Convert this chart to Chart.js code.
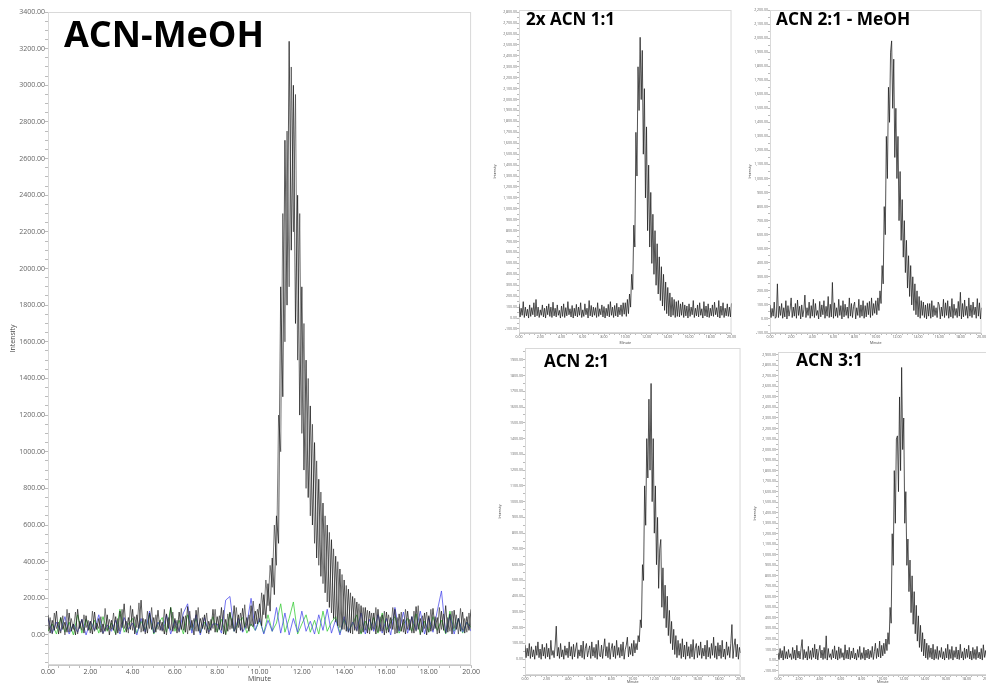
<!DOCTYPE html>
<html><head><meta charset="utf-8">
<script src="https://cdn.jsdelivr.net/npm/chart.js@4.4.1/dist/chart.umd.min.js"></script>
<style>
html,body{margin:0;padding:0;background:#fff;width:986px;height:684px;overflow:hidden;position:relative;font-family:"Open Sans",sans-serif}
.panel{position:absolute}
.title{position:absolute;font-family:"Open Sans",sans-serif;font-weight:700;color:#000;white-space:nowrap;line-height:1}
</style></head><body>
<div class="panel" style="left:0;top:0;width:480px;height:684px"><canvas id="c0"></canvas></div>
<div class="panel" style="left:490px;top:0;width:246px;height:345px"><canvas id="c1"></canvas></div>
<div class="panel" style="left:745px;top:0;width:241px;height:345px"><canvas id="c2"></canvas></div>
<div class="panel" style="left:495px;top:340px;width:250px;height:344px"><canvas id="c3"></canvas></div>
<div class="panel" style="left:750px;top:340px;width:242px;height:344px"><canvas id="c4"></canvas></div>
<div class="title" style="left:64px;top:16px;font-size:36px">ACN-MeOH</div>
<div class="title" style="left:526px;top:10px;font-size:17px">2x ACN 1:1</div>
<div class="title" style="left:776px;top:10px;font-size:17.3px">ACN 2:1 - MeOH</div>
<div class="title" style="left:544px;top:352px;font-size:17px">ACN 2:1</div>
<div class="title" style="left:796px;top:351px;font-size:17.5px">ACN 3:1</div>
<script>
// Time grids (minutes)
const minutes = Array.from({length: 201}, (_, i) => i / 10);
const minutesCoarse = Array.from({length: 101}, (_, i) => i / 5);

// ACN-MeOH panel: sample traces (black) and blanks (blue, green)
const acnMeohA = [
110,10,80,25,130,5,95,30,70,15,
120,20,60,0,140,35,85,10,105,25,
75,5,125,30,90,15,60,20,110,0,
80,25,100,10,130,40,170,15,95,30,
140,5,110,35,190,20,85,10,120,30,
95,15,135,25,70,5,115,35,150,20,
90,10,125,30,100,15,155,25,80,0,
135,20,90,35,110,10,75,25,140,15,
100,30,150,5,85,20,125,35,160,10,
110,25,145,40,95,20,160,45,130,60,
170,50,220,90,280,130,420,220,650,500,
1900,1300,2700,1800,3240,2100,3000,1700,2400,1200,
1900,900,1500,750,1250,600,1050,420,850,320,
720,230,600,150,520,90,430,50,360,30,
300,20,250,10,210,25,180,5,160,15,
150,10,130,25,120,5,140,20,110,0,
125,15,95,30,140,10,115,20,85,5,
130,25,100,10,155,30,90,15,120,0,
105,20,145,35,95,10,130,25,160,15,
115,5,135,30,90,20,125,10,100,25,
140];
const acnMeohB = [
20,95,5,120,35,70,10,105,0,140,
15,90,30,125,5,75,25,110,40,80,
10,130,20,65,35,100,5,145,25,85,
30,120,0,90,20,140,35,75,10,160,
25,100,40,175,15,90,5,130,35,150,
10,110,30,80,20,140,0,95,25,125,
35,80,15,145,25,105,5,130,40,90,
20,150,10,95,30,120,5,85,35,140,
15,105,25,135,0,115,30,90,20,150,
40,120,20,165,35,110,50,185,60,140,
70,230,110,300,160,380,260,600,380,1200,
1000,2300,1600,2750,1900,3100,2200,2950,1500,2300,
1100,1700,800,1400,650,1150,500,950,380,780,
280,650,180,560,120,470,70,400,40,330,
30,270,15,230,5,200,20,170,10,150,
25,135,5,120,30,150,15,100,20,130,
10,110,35,150,5,95,25,125,15,140,
30,85,10,130,20,160,0,105,35,125,
15,140,25,100,5,150,30,115,10,95,
20,130,35,110,5,145,25,90,15,120,
30];
const blankBlue = [
90,10,70,20,100,5,60,15,85,0,
75,25,110,10,55,20,80,5,95,30,
65,0,90,15,130,10,70,25,110,5,
80,20,120,170,10,110,0,95,15,60,
60,10,190,210,20,90,15,60,200,25,
90,5,80,20,150,10,120,0,90,15,
130,20,75,5,110,25,140,10,85,0,
100,15,70,25,120,5,85,20,110,10,
90,0,150,20,125,10,100,25,130,5,
95,15,130,240,10,110,5,90,15,70,
20];
const blankGreen = [
20,60,5,95,15,70,0,110,10,85,
25,80,10,100,20,65,5,140,15,60,
90,10,75,25,110,5,60,95,15,150,
20,80,5,110,25,90,10,70,30,100,
15,85,5,120,20,70,95,10,60,25,
80,10,110,20,65,170,15,90,180,5,
60,110,15,80,5,130,20,70,100,10,
85,20,60,110,5,75,25,95,10,120,
25,70,100,10,60,90,20,115,5,75,
15,100,25,80,5,130,20,90,10,70,
40];

// 2x ACN 1:1
const acn2x11 = [
130,10,90,25,150,5,100,20,80,0,
120,15,95,30,140,10,170,20,100,5,
75,25,120,10,90,0,110,30,130,15,
100,5,145,20,90,10,120,25,70,0,
110,15,130,5,95,20,150,30,85,10,
115,0,90,20,125,10,100,25,140,5,
75,15,130,30,90,0,160,20,115,10,
100,25,95,5,140,15,85,30,120,10,
105,0,90,20,125,10,150,25,100,5,
115,20,135,10,100,30,120,15,140,35,
140,15,170,40,220,100,400,260,850,650,
1700,1300,2300,1900,2570,2000,2450,1500,2100,1100,
1750,800,1400,650,1150,500,950,400,800,300,
680,220,560,160,470,110,400,70,330,40,
280,20,230,10,190,25,170,5,150,15,
160,10,130,25,145,5,120,20,110,0,
130,15,100,30,160,5,90,20,120,10,
140,25,85,0,150,20,110,10,130,5,
90,20,120,15,145,30,95,10,160,0,
110,25,140,5,90,20,130,15,100,10,
135];

// ACN 2:1 - MeOH
const acn21Meoh = [
100,10,75,20,120,5,15,250,10,90,
25,110,5,80,15,130,0,95,20,70,
150,10,85,20,110,5,135,25,90,0,
100,15,65,170,10,80,25,120,5,95,
20,140,10,110,25,60,0,125,15,100,
30,130,5,90,20,160,10,105,15,260,
5,115,20,80,10,140,25,95,0,130,
15,105,25,85,5,150,20,110,10,90,
120,0,80,25,140,10,100,20,130,5,
95,15,115,30,125,10,150,25,110,40,
130,30,150,60,200,110,380,250,800,600,
1300,1000,1650,1400,1900,1980,1500,1850,1150,1500,
1000,1300,700,1050,560,850,440,700,330,560,
220,450,160,380,100,300,60,250,30,200,
15,160,5,130,25,120,10,100,0,110,
20,110,5,130,15,95,25,80,10,120,
100,0,85,20,140,10,115,25,130,5,
90,15,145,5,105,25,75,10,125,20,
190,0,110,15,135,25,90,5,150,20,
100,10,120,30,85,5,145,20,115,0,
80];

// ACN 2:1
const acn21 = [
90,10,70,20,100,5,80,15,60,0,
85,25,110,10,65,0,95,20,75,5,
100,15,70,0,120,25,55,10,90,210,
20,75,5,100,15,60,0,85,25,70,
10,110,20,80,0,95,15,65,105,5,
60,20,90,10,115,0,70,100,15,55,
85,5,110,20,75,10,95,0,120,25,
15,90,5,70,130,20,80,10,105,0,
65,100,15,85,5,120,25,75,10,95,
20,110,0,60,90,140,15,80,30,100,
20,120,40,100,60,150,110,250,200,600,
500,1100,850,1400,1150,1650,1200,1750,1000,1400,
800,1100,600,900,450,700,760,330,580,260,
470,200,400,150,310,100,240,60,190,30,
150,10,120,25,100,5,130,15,90,0,
110,20,80,5,95,15,125,0,70,100,
10,85,25,110,5,70,20,90,0,120,
15,75,5,100,25,140,10,85,0,105,
20,90,5,120,15,65,0,110,25,80,
10,100,220,5,85,130,15,95,0,75,
40];

// ACN 3:1
const acn31 = [
70,5,110,20,90,0,130,15,80,10,
100,25,60,5,120,15,95,0,140,20,
85,10,110,195,5,100,20,80,0,130,
15,90,5,115,25,150,10,105,0,85,
140,20,95,5,120,15,230,0,110,25,
60,5,100,20,135,10,90,0,125,15,
110,25,70,0,145,15,95,10,120,5,
85,20,115,10,65,0,100,25,130,5,
70,15,120,0,95,20,105,10,90,25,
130,5,80,160,15,110,30,180,20,140,
40,160,60,200,90,260,150,500,350,1200,
900,1800,1300,2100,2130,1600,2500,1800,2780,2000,
2300,1300,1600,900,1150,650,950,450,800,340,
650,250,520,180,420,120,330,80,260,40,
200,20,160,5,140,25,115,10,150,0,
100,15,130,5,90,25,120,10,80,0,
110,20,150,5,100,15,130,0,90,25,
125,10,95,5,150,20,80,0,115,15,
105,25,140,10,85,0,120,15,100,5,
130,20,75,10,110,0,145,25,90,15,
115];

const BLACK = 'rgba(25,25,25,0.72)';
const BLACK2 = 'rgba(45,45,45,0.6)';
const DARK = 'rgba(35,35,35,0.78)';
const BLUE = 'rgba(70,70,235,0.75)';
const GREEN = 'rgba(60,205,60,0.8)';

const frame = {
  id: 'frame',
  beforeDatasetsDraw(c) {
    const a = c.chartArea, ctx = c.ctx;
    ctx.save();
    ctx.strokeStyle = '#d9d9d9';
    ctx.lineWidth = 1;
    ctx.strokeRect(a.left + 0.5, a.top + 0.5, a.right - a.left - 1, a.bottom - a.top - 1);
    ctx.restore();
  }
};

function fmt(v, comma) {
  return comma ? v.toLocaleString('en-US', {minimumFractionDigits: 2, maximumFractionDigits: 2}) : v.toFixed(2);
}

function panel(id, o) {
  const datasets = o.series.map(s => ({
    data: s.t.map((x, i) => ({x: x, y: s.v[i]})),
    borderColor: s.c, borderWidth: 1, pointRadius: 0, tension: 0, fill: false
  }));
  return new Chart(document.getElementById(id), {
    type: 'line',
    data: {datasets},
    options: {
      responsive: true, maintainAspectRatio: false, animation: false, events: [],
      layout: {padding: {top: o.padTop, right: o.padRight, left: 0, bottom: 0}},
      plugins: {legend: {display: false}, tooltip: {enabled: false}},
      scales: {
        x: {
          type: 'linear', min: 0, max: 20,
          afterFit: s => { s.height = o.xH; },
          afterBuildTicks: s => {
            const t = [];
            for (let k = 0; k <= 40; k++) t.push({value: k / 2});
            s.ticks = t;
          },
          ticks: {
            autoSkip: false, maxRotation: 0, padding: 0, color: '#555',
            font: {size: o.fs, family: 'Open Sans'},
            callback: v => (Math.abs(v % 2) < 1e-6 ? v.toFixed(2) : '')
          },
          grid: {drawOnChartArea: false, tickLength: o.tl, tickColor: '#bbb'},
          border: {color: '#c8c8c8'},
          title: {display: true, text: 'Minute', color: '#444', font: {size: o.tfs, family: 'Open Sans'}, padding: {top: 0, bottom: o.xtPad}}
        },
        y: {
          type: 'linear', min: o.ymin, max: o.ymax,
          afterFit: s => { s.width = o.yW; },
          afterBuildTicks: s => {
            const t = [];
            for (let v = Math.ceil(o.ymin / o.minor) * o.minor; v <= o.ymax; v += o.minor) t.push({value: v});
            s.ticks = t;
          },
          ticks: {
            autoSkip: false, padding: 0, color: '#666',
            font: {size: o.fs, family: 'Open Sans'},
            callback: v => ((v % o.major === 0 && v >= o.labelMin) ? fmt(v, o.comma) : '')
          },
          grid: {drawOnChartArea: false, tickLength: o.tl, tickColor: '#bbb'},
          border: {color: '#c8c8c8'},
          title: {display: true, text: 'Intensity', color: '#444', font: {size: o.tfs, family: 'Open Sans'}, padding: {top: o.ytPad, bottom: 0}}
        }
      }
    },
    plugins: [frame]
  });
}

panel('c0', {
  series: [
    {t: minutes, v: acnMeohA, c: BLACK},
    {t: minutes, v: acnMeohB, c: BLACK2},
    {t: minutesCoarse, v: blankBlue, c: BLUE},
    {t: minutesCoarse, v: blankGreen, c: GREEN}
  ],
  ymin: -164, ymax: 3400, minor: 50, major: 200, labelMin: 0, comma: false,
  padTop: 12, padRight: 4, xH: 19, yW: 48, fs: 7, tfs: 7, tl: 3, xtPad: 1, ytPad: 9
});
panel('c1', {
  series: [{t: minutes, v: acn2x11, c: DARK}],
  ymin: -137, ymax: 2820, minor: 50, major: 100, labelMin: -100, comma: true,
  padTop: 10, padRight: 4, xH: 12, yW: 29, fs: 3.5, tfs: 3.5, tl: 2, xtPad: 0, ytPad: 3
});
panel('c2', {
  series: [{t: minutes, v: acn21Meoh, c: DARK}],
  ymin: -100, ymax: 2200, minor: 50, major: 100, labelMin: -100, comma: true,
  padTop: 10, padRight: 3, xH: 12, yW: 25, fs: 3.5, tfs: 3.5, tl: 2, xtPad: 0, ytPad: 3
});
panel('c3', {
  series: [{t: minutes, v: acn21, c: DARK}],
  ymin: -100, ymax: 1975, minor: 50, major: 100, labelMin: 0, comma: false,
  padTop: 8, padRight: 4, xH: 9, yW: 30, fs: 3.5, tfs: 3.5, tl: 2, xtPad: 0, ytPad: 3
});
panel('c4', {
  series: [{t: minutes, v: acn31, c: DARK}],
  ymin: -142, ymax: 2927, minor: 50, major: 100, labelMin: -100, comma: true,
  padTop: 12, padRight: 4, xH: 9, yW: 28, fs: 3.5, tfs: 3.5, tl: 2, xtPad: 0, ytPad: 3
});
</script>
</body></html>
